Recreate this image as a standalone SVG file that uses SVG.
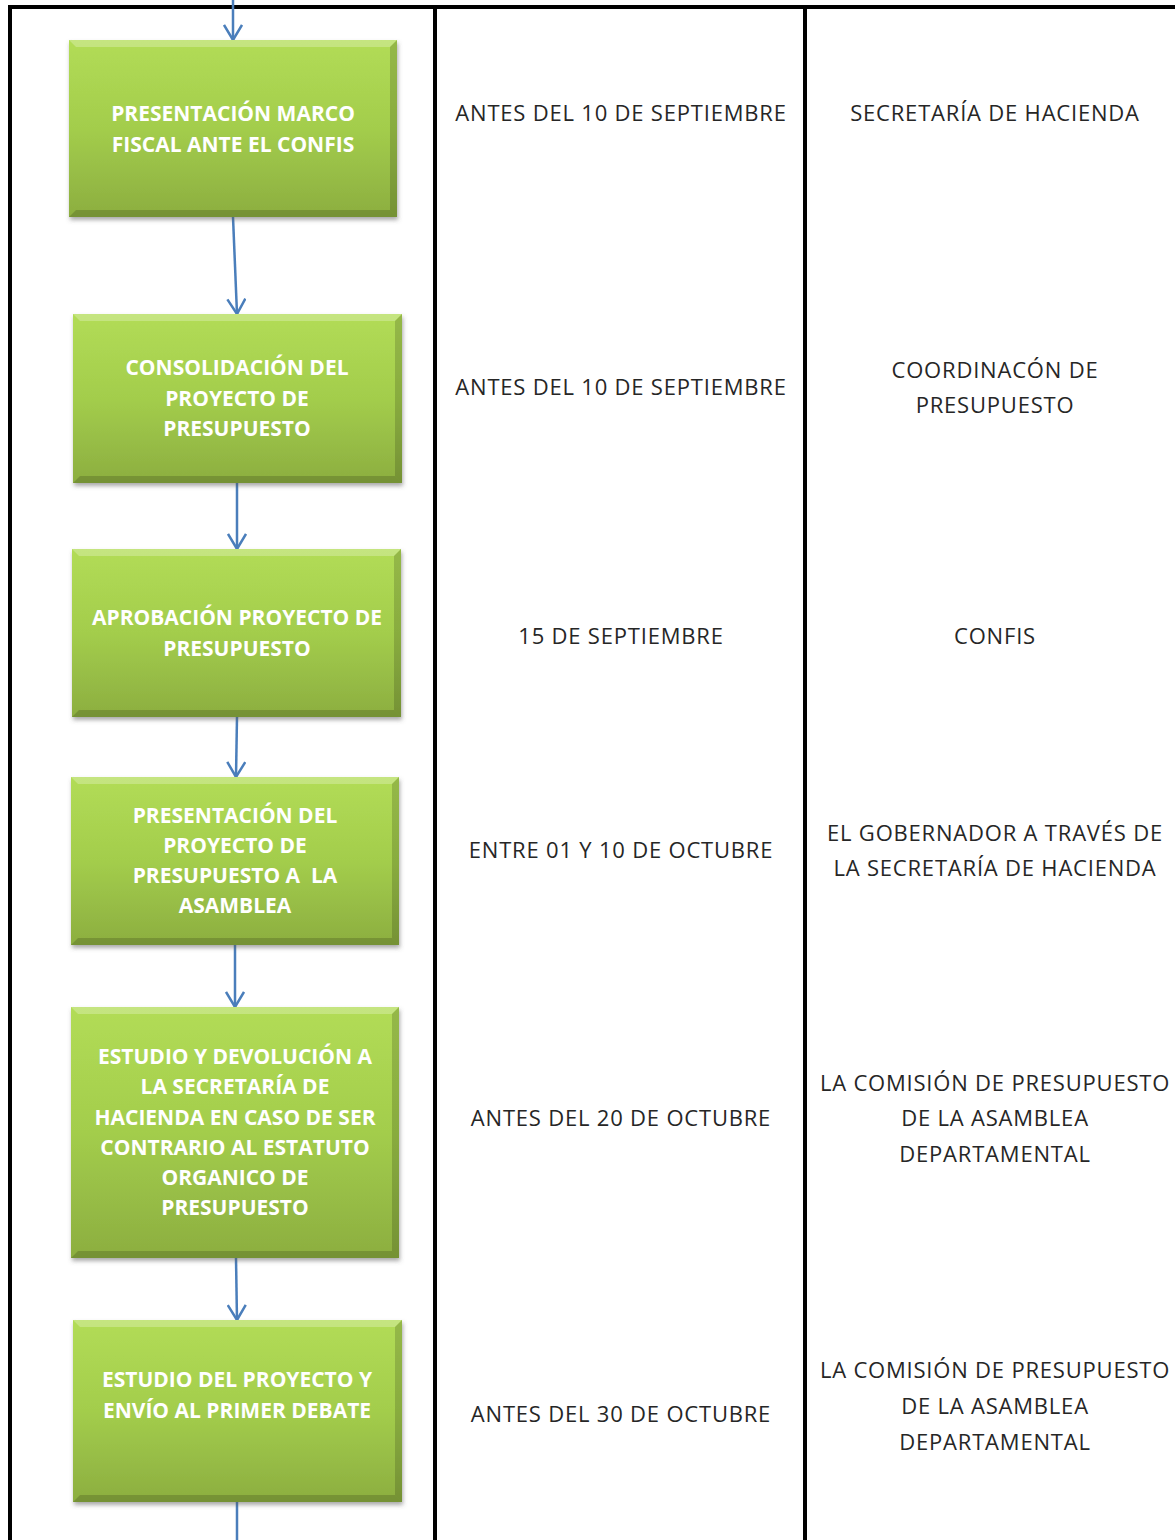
<svg xmlns="http://www.w3.org/2000/svg" width="1175" height="1540" viewBox="0 0 1175 1540">
<defs>
<linearGradient id="g" x1="0" y1="0" x2="0" y2="1">
<stop offset="0" stop-color="#b2dc56"/>
<stop offset="0.5" stop-color="#a3cd4c"/>
<stop offset="1" stop-color="#8cae40"/>
</linearGradient>
<filter id="sh" x="-5%" y="-5%" width="112%" height="115%">
<feDropShadow dx="1" dy="3" stdDeviation="2" flood-color="#555" flood-opacity="0.5"/>
</filter>
<marker id="ah" viewBox="0 0 20 20" refX="18" refY="10" markerWidth="20" markerHeight="20" markerUnits="userSpaceOnUse" orient="auto">
<path d="M3,1 L18,10 L3,19" fill="none" stroke="#4a7ebb" stroke-width="2.5"/>
</marker>
</defs>
<style>
.box{fill:url(#g);filter:url(#sh)}
.hl{fill:#ffffff;opacity:0.25}
.dk{fill:#000000;opacity:0.16}
.bt{font-family:"Open Sans","Liberation Sans",sans-serif;font-weight:bold;font-size:21px;fill:#ffffff;text-anchor:middle}
.ct{font-family:"Open Sans","Liberation Sans",sans-serif;font-size:22px;letter-spacing:0.8px;fill:#262626;text-anchor:middle}
.ln{stroke:#000;stroke-width:4;fill:none}
.cn{stroke:#4a7ebb;stroke-width:2.5;fill:none;marker-end:url(#ah)}
</style>
<rect width="1175" height="1540" fill="#ffffff"/>
<g id="grid">
<line class="ln" x1="8" y1="7" x2="1175" y2="7"/>
<line class="ln" x1="10" y1="5" x2="10" y2="1540"/>
<line class="ln" x1="435" y1="5" x2="435" y2="1540"/>
<line class="ln" x1="805" y1="5" x2="805" y2="1540"/>
</g>
<g id="connectors">
<path class="cn" d="M233,0 L233,40"/>
<path class="cn" d="M233,217 L237,314"/>
<path class="cn" d="M237,483 L237,549"/>
<path class="cn" d="M237,717 L236,777"/>
<path class="cn" d="M235,945 L235,1007"/>
<path class="cn" d="M236,1258 L237,1320"/>
<path d="M237,1502 L237,1540" stroke="#4a7ebb" stroke-width="2.5" fill="none"/>
</g>
<g id="n1">
<rect class="box" x="69" y="40" width="328" height="177"/>
<polygon class="hl" points="69,40 397,40 390,47 76,47"/>
<polygon class="dk" points="69,217 397,217 390,210 76,210"/>
<polygon class="dk" points="397,40 397,217 390,210 390,47"/>
<text class="bt" x="233" y="121">PRESENTACIÓN MARCO</text>
<text class="bt" x="233" y="152">FISCAL ANTE EL CONFIS</text>
</g>
<g id="n2">
<rect class="box" x="73" y="314" width="329" height="169"/>
<polygon class="hl" points="73,314 402,314 395,321 80,321"/>
<polygon class="dk" points="73,483 402,483 395,476 80,476"/>
<polygon class="dk" points="402,314 402,483 395,476 395,321"/>
<text class="bt" x="237" y="375">CONSOLIDACIÓN DEL</text>
<text class="bt" x="237" y="406">PROYECTO DE</text>
<text class="bt" x="237" y="436">PRESUPUESTO</text>
</g>
<g id="n3">
<rect class="box" x="72" y="549" width="329" height="168"/>
<polygon class="hl" points="72,549 401,549 394,556 79,556"/>
<polygon class="dk" points="72,717 401,717 394,710 79,710"/>
<polygon class="dk" points="401,549 401,717 394,710 394,556"/>
<text class="bt" x="237" y="625">APROBACIÓN PROYECTO DE</text>
<text class="bt" x="237" y="656">PRESUPUESTO</text>
</g>
<g id="n4">
<rect class="box" x="71" y="777" width="328" height="168"/>
<polygon class="hl" points="71,777 399,777 392,784 78,784"/>
<polygon class="dk" points="71,945 399,945 392,938 78,938"/>
<polygon class="dk" points="399,777 399,945 392,938 392,784"/>
<text class="bt" x="235" y="823">PRESENTACIÓN DEL</text>
<text class="bt" x="235" y="853">PROYECTO DE</text>
<text class="bt" x="235" y="883" xml:space="preserve">PRESUPUESTO A  LA</text>
<text class="bt" x="235" y="913">ASAMBLEA</text>
</g>
<g id="n5">
<rect class="box" x="71" y="1007" width="328" height="251"/>
<polygon class="hl" points="71,1007 399,1007 392,1014 78,1014"/>
<polygon class="dk" points="71,1258 399,1258 392,1251 78,1251"/>
<polygon class="dk" points="399,1007 399,1258 392,1251 392,1014"/>
<text class="bt" x="235" y="1064">ESTUDIO Y DEVOLUCIÓN A</text>
<text class="bt" x="235" y="1094">LA SECRETARÍA DE</text>
<text class="bt" x="235" y="1125">HACIENDA EN CASO DE SER</text>
<text class="bt" x="235" y="1155">CONTRARIO AL ESTATUTO</text>
<text class="bt" x="235" y="1185">ORGANICO DE</text>
<text class="bt" x="235" y="1215">PRESUPUESTO</text>
</g>
<g id="n6">
<rect class="box" x="73" y="1320" width="329" height="182"/>
<polygon class="hl" points="73,1320 402,1320 395,1327 80,1327"/>
<polygon class="dk" points="73,1502 402,1502 395,1495 80,1495"/>
<polygon class="dk" points="402,1320 402,1502 395,1495 395,1327"/>
<text class="bt" x="237" y="1387">ESTUDIO DEL PROYECTO Y</text>
<text class="bt" x="237" y="1418">ENVÍO AL PRIMER DEBATE</text>
</g>
<g id="dates">
<text class="ct" x="621" y="121">ANTES DEL 10 DE SEPTIEMBRE</text>
<text class="ct" x="621" y="395">ANTES DEL 10 DE SEPTIEMBRE</text>
<text class="ct" x="621" y="644">15 DE SEPTIEMBRE</text>
<text class="ct" x="621" y="858">ENTRE 01 Y 10 DE OCTUBRE</text>
<text class="ct" x="621" y="1126">ANTES DEL 20 DE OCTUBRE</text>
<text class="ct" x="621" y="1422">ANTES DEL 30 DE OCTUBRE</text>
</g>
<g id="responsables">
<text class="ct" x="995" y="121">SECRETARÍA DE HACIENDA</text>
<text class="ct" x="995" y="378">COORDINACÓN DE</text>
<text class="ct" x="995" y="413">PRESUPUESTO</text>
<text class="ct" x="995" y="644">CONFIS</text>
<text class="ct" x="995" y="841">EL GOBERNADOR A TRAVÉS DE</text>
<text class="ct" x="995" y="876">LA SECRETARÍA DE HACIENDA</text>
<text class="ct" x="995" y="1091">LA COMISIÓN DE PRESUPUESTO</text>
<text class="ct" x="995" y="1126">DE LA ASAMBLEA</text>
<text class="ct" x="995" y="1162">DEPARTAMENTAL</text>
<text class="ct" x="995" y="1378">LA COMISIÓN DE PRESUPUESTO</text>
<text class="ct" x="995" y="1414">DE LA ASAMBLEA</text>
<text class="ct" x="995" y="1450">DEPARTAMENTAL</text>
</g>
</svg>
